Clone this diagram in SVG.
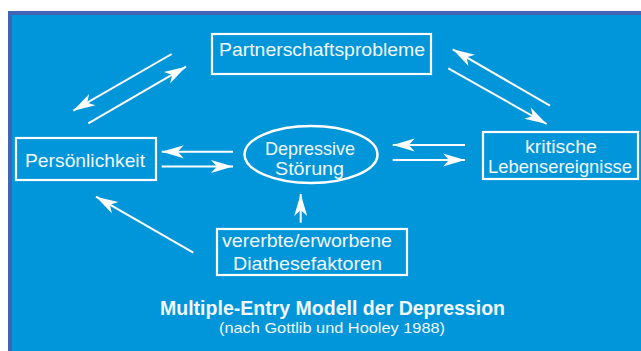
<svg xmlns="http://www.w3.org/2000/svg" width="641" height="351" viewBox="0 0 641 351">
<style>
.box{fill:none;stroke:#ffffff;stroke-width:2.2}
.t{font-family:"Liberation Sans","Arial",sans-serif;font-size:19px;fill:#f2f8fd}
.c{stroke:#ffffff;stroke-width:2;fill:none;marker-end:url(#ah)}
.title{font-family:"Liberation Sans","Arial",sans-serif;font-size:20px;font-weight:bold;fill:#f2f8fd}
.sub{font-family:"Liberation Sans","Arial",sans-serif;font-size:15.5px;fill:#f2f8fd}
</style>
<defs>
<marker id="ah" markerUnits="userSpaceOnUse" viewBox="-23 -7 24 14" markerWidth="24" markerHeight="14" refX="0" refY="0" orient="auto">
<path d="M0,0 L-22,-6.5 L-16,0 L-22,6.5 Z" fill="#ffffff"/>
</marker>
</defs>
<rect x="0" y="0" width="641" height="351" fill="#ffffff"/>
<rect x="8" y="11" width="633" height="340" fill="#4264b4"/>
<rect x="12" y="15" width="629" height="336" fill="#0096d9"/>

<g id="partnerschaftsprobleme">
<rect class="box" x="212" y="34" width="219" height="40"/>
<text class="t" x="219" y="56" textLength="206" lengthAdjust="spacingAndGlyphs">Partnerschaftsprobleme</text>
</g>
<g id="persoenlichkeit">
<rect class="box" x="16" y="138" width="140" height="42"/>
<text class="t" x="25" y="166.5" textLength="120" lengthAdjust="spacingAndGlyphs">Persönlichkeit</text>
</g>
<g id="depressive-stoerung">
<ellipse cx="311" cy="154.5" rx="66.5" ry="28.5" fill="none" stroke="#ffffff" stroke-width="2.5"/>
<text class="t" x="265" y="155" textLength="90" lengthAdjust="spacingAndGlyphs">Depressive</text>
<text class="t" x="275" y="175" textLength="69" lengthAdjust="spacingAndGlyphs">Störung</text>
</g>
<g id="kritische-lebensereignisse">
<rect class="box" x="483" y="132" width="155" height="47"/>
<text class="t" x="525" y="153" textLength="72" lengthAdjust="spacingAndGlyphs">kritische</text>
<text class="t" x="488" y="173" textLength="144" lengthAdjust="spacingAndGlyphs">Lebensereignisse</text>
</g>
<g id="diathesefaktoren">
<rect class="box" x="217" y="229" width="190" height="46"/>
<text class="t" x="222" y="247" textLength="170" lengthAdjust="spacingAndGlyphs">vererbte/erworbene</text>
<text class="t" x="233" y="270" textLength="149" lengthAdjust="spacingAndGlyphs">Diathesefaktoren</text>
</g>

<g id="connectors">
<line class="c" x1="171.7" y1="54" x2="73.3" y2="110.7"/>
<line class="c" x1="88.3" y1="123.3" x2="186" y2="66.7"/>
<line class="c" x1="550" y1="105.7" x2="452.7" y2="49.3"/>
<line class="c" x1="448.3" y1="68.3" x2="546.7" y2="124"/>
<line class="c" x1="233" y1="151.7" x2="161.7" y2="151.7"/>
<line class="c" x1="161.7" y1="166.5" x2="233" y2="166.5"/>
<line class="c" x1="465" y1="145" x2="392.7" y2="145"/>
<line class="c" x1="392.7" y1="160" x2="465" y2="160"/>
<line class="c" x1="300.7" y1="222.7" x2="300.7" y2="194"/>
<line class="c" x1="193.3" y1="252.7" x2="96" y2="196.7"/>
</g>

<g id="caption">
<text class="title" x="160" y="315" textLength="345" lengthAdjust="spacingAndGlyphs">Multiple-Entry Modell der Depression</text>
<text class="sub" x="219" y="333" textLength="226" lengthAdjust="spacingAndGlyphs">(nach Gottlib und Hooley 1988)</text>
</g>
</svg>
